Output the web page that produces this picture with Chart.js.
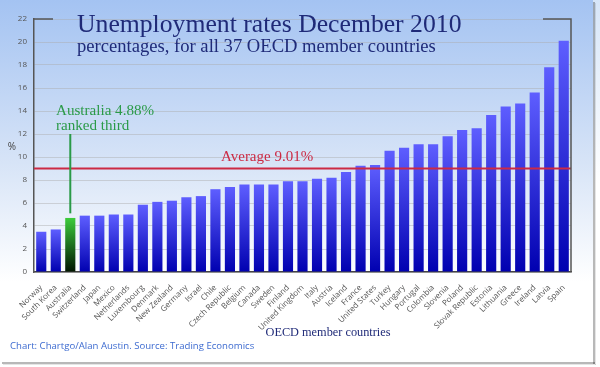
<!DOCTYPE html>
<html>
<head>
<meta charset="utf-8">
<script src="https://cdn.jsdelivr.net/npm/chart.js@4.4.0/dist/chart.umd.min.js"></script>
<style>
  html, body { margin: 0; padding: 0; background: #fff; }
  canvas { display: block; }
</style>
</head>
<body>
<canvas id="chart" width="600" height="367"></canvas>
<script>
// Unemployment rates, December 2010, OECD member countries (%)
const countries = [
  'Norway', 'South Korea', 'Australia', 'Switzerland', 'Japan', 'Mexico',
  'Netherlands', 'Luxembourg', 'Denmark', 'New Zealand', 'Germany', 'Israel',
  'Chile', 'Czech Republic', 'Belgium', 'Canada', 'Sweden', 'Finland',
  'United Kingdom', 'Italy', 'Austria', 'Iceland', 'France', 'United States',
  'Turkey', 'Hungary', 'Portugal', 'Colombia', 'Slovenia', 'Poland',
  'Slovak Republic', 'Estonia', 'Lithuania', 'Greece', 'Ireland', 'Latvia', 'Spain'
];
const rates = [
  3.5, 3.7, 4.7, 4.9, 4.9, 5.0,
  5.0, 5.85, 6.1, 6.2, 6.5, 6.6,
  7.2, 7.4, 7.6, 7.6, 7.6, 7.9,
  7.9, 8.1, 8.2, 8.7, 9.25, 9.3,
  10.55, 10.8, 11.1, 11.1, 11.8, 12.35,
  12.5, 13.65, 14.4, 14.65, 15.6, 17.8, 20.1
];
const highlight = 'Australia';
const highlightText = ['Australia 4.88%', 'ranked third'];
const average = 9.01;
const yMin = 0;
const yMax = 22;
const yStep = 2;

const NAVY = '#1f2a78';
const RED = '#cc2a44';
const GREEN = '#2a9a48';

// fit a serif string to a given width
function fitFont(ctx, text, width, family) {
  ctx.font = '100px ' + family;
  const size = 100 * width / ctx.measureText(text).width;
  return size.toFixed(1) + 'px ' + family;
}

const backdrop = {
  id: 'backdrop',
  beforeDraw(chart) {
    const ctx = chart.ctx;
    ctx.save();
    ctx.fillStyle = '#ffffff';
    ctx.fillRect(0, 0, 600, 367);
    let g = ctx.createLinearGradient(0, 0, 0, 367);
    g.addColorStop(0, '#d6e5f8');
    g.addColorStop(0.5, '#ffffff');
    ctx.fillStyle = g;
    ctx.fillRect(593, 0, 7, 367);
    // card shadow
    ctx.fillStyle = 'rgba(0,0,0,0.28)';
    ctx.fillRect(593, 2, 2, 362);
    ctx.fillRect(2, 362, 593, 2);
    ctx.fillStyle = 'rgba(0,0,0,0.10)';
    ctx.fillRect(595, 3, 1, 362);
    ctx.fillRect(3, 364, 593, 1);
    // card
    g = ctx.createLinearGradient(0, 0, 0, 362);
    g.addColorStop(0, '#a4c3f2');
    g.addColorStop(0.45, '#d7e4f7');
    g.addColorStop(0.78, '#ffffff');
    ctx.fillStyle = g;
    ctx.fillRect(0, 0, 593, 362);
    ctx.restore();
  }
};

const overlay = {
  id: 'overlay',
  afterDatasetsDraw(chart) {
    const ctx = chart.ctx;
    const area = chart.chartArea;
    const x = chart.scales.x;
    const y = chart.scales.y;
    ctx.save();

    // average line
    const ay = y.getPixelForValue(average);
    ctx.strokeStyle = RED;
    ctx.lineWidth = 2;
    ctx.beginPath();
    ctx.moveTo(area.left, ay);
    ctx.lineTo(area.right, ay);
    ctx.stroke();
    ctx.fillStyle = RED;
    ctx.textAlign = 'left';
    ctx.textBaseline = 'alphabetic';
    ctx.font = fitFont(ctx, 'Average 9.01%', 92, '"Liberation Serif", serif');
    ctx.fillText('Average ' + average.toFixed(2) + '%', 221, ay - 7);

    // highlighted country marker
    const hi = countries.indexOf(highlight);
    const hx = x.getPixelForValue(hi);
    ctx.strokeStyle = GREEN;
    ctx.lineWidth = 2;
    ctx.beginPath();
    ctx.moveTo(hx, y.getPixelForValue(12));
    ctx.lineTo(hx, y.getPixelForValue(rates[hi] + 0.4));
    ctx.stroke();
    ctx.fillStyle = GREEN;
    ctx.font = fitFont(ctx, highlightText[0], 98, '"Liberation Serif", serif');
    ctx.fillText(highlightText[0], 56, 115);
    ctx.fillText(highlightText[1], 56, 130);
    ctx.restore();
  },
  afterDraw(chart) {
    const ctx = chart.ctx;
    const area = chart.chartArea;
    ctx.save();

    // bracket frame
    ctx.strokeStyle = '#555';
    ctx.lineWidth = 1.5;
    ctx.beginPath();
    ctx.moveTo(area.left, area.top);
    ctx.lineTo(area.left + 19, area.top);
    ctx.moveTo(area.right - 28, area.top);
    ctx.lineTo(area.right, area.top);
    ctx.lineTo(area.right, area.bottom);
    ctx.stroke();

    // titles
    ctx.fillStyle = NAVY;
    ctx.textAlign = 'left';
    ctx.textBaseline = 'alphabetic';
    ctx.font = fitFont(ctx, 'Unemployment rates December 2010', 384, '"Liberation Serif", serif');
    ctx.fillText('Unemployment rates December 2010', 77, 32);
    ctx.font = fitFont(ctx, 'percentages, for all 37 OECD member countries', 358, '"Liberation Serif", serif');
    ctx.fillText('percentages, for all 37 OECD member countries', 77, 52);

    // axis titles
    ctx.textAlign = 'center';
    ctx.font = fitFont(ctx, 'OECD member countries', 125, '"Liberation Serif", serif');
    ctx.fillText('OECD member countries', 328, 336);
    ctx.fillStyle = '#444';
    ctx.font = '10px "Open Sans", sans-serif';
    ctx.fillText('%', 12, 150);

    // source
    ctx.textAlign = 'left';
    ctx.fillStyle = '#3d6bd0';
    ctx.font = fitFont(ctx, 'Chart: Chartgo/Alan Austin. Source: Trading Economics', 244, '"Open Sans", sans-serif');
    ctx.fillText('Chart: Chartgo/Alan Austin. Source: Trading Economics', 10, 349);
    ctx.restore();
  }
};

function barFill(c) {
  const chart = c.chart;
  const y = chart.scales.y;
  const i = c.dataIndex;
  const isHi = countries[i] === highlight;
  if (!y || i === undefined) return isHi ? '#22aa22' : '#2a2ae0';
  const top = y.getPixelForValue(rates[i]);
  const bottom = y.getPixelForValue(0);
  if (!isFinite(top) || !isFinite(bottom) || top === bottom) return isHi ? '#22aa22' : '#2a2ae0';
  const g = chart.ctx.createLinearGradient(0, top, 0, bottom);
  if (isHi) {
    g.addColorStop(0, '#3ccc3c');
    g.addColorStop(1, '#001400');
  } else {
    g.addColorStop(0, '#5e5eff');
    g.addColorStop(1, '#0000b0');
  }
  return g;
}

new Chart(document.getElementById('chart'), {
  type: 'bar',
  data: {
    labels: countries,
    datasets: [
      {
        label: 'Unemployment rate',
        data: rates,
        backgroundColor: barFill,
        borderWidth: 0,
        barPercentage: 0.7,
        categoryPercentage: 1.0,
      },
    ],
  },
  options: {
    responsive: false,
    animation: false,
    devicePixelRatio: 1,
    layout: {
      padding: { left: 0, top: 19, right: 29, bottom: 0 }
    },
    plugins: {
      legend: { display: false },
      tooltip: { enabled: false },
      title: { display: false },
    },
    scales: {
      x: {
        type: 'category',
        afterFit: s => { s.height = 95; },
        grid: { display: false },
        border: { display: true, color: '#444', width: 1.5 },
        ticks: {
          autoSkip: false,
          minRotation: 45,
          maxRotation: 45,
          padding: 3,
          color: '#555',
          font: { family: '"Open Sans", sans-serif', size: 8 },
        },
      },
      y: {
        type: 'linear',
        min: yMin,
        max: yMax,
        afterFit: s => { s.width = 34; },
        grid: { color: 'rgba(170,170,170,0.45)', lineWidth: 1, drawTicks: false },
        border: { display: true, color: '#555', width: 1.5 },
        ticks: {
          stepSize: yStep,
          padding: 7,
          color: '#555',
          font: { family: '"Open Sans", sans-serif', size: 8 },
        },
      },
    },
  },
  plugins: [backdrop, overlay],
});
</script>
</body>
</html>
